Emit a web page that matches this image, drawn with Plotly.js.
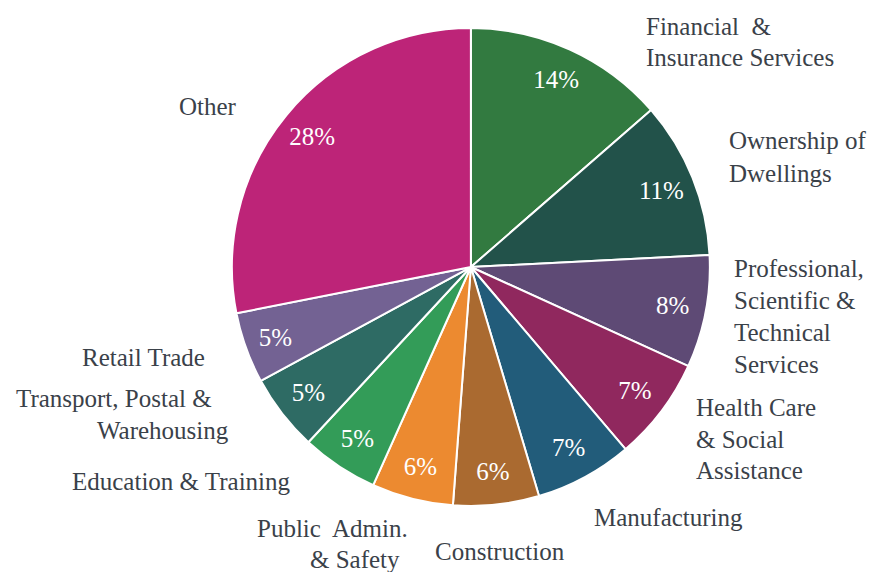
<!DOCTYPE html>
<html>
<head>
<meta charset="utf-8">
<script src="https://cdn.plot.ly/plotly-3.0.1.min.js"></script>
<style>
  html, body { margin: 0; padding: 0; background: #fff; }
  #chart { width: 872px; height: 572px; }
</style>
</head>
<body>
<div id="chart"></div>
<script>
// Sectores (en sentido horario desde las 12)
const industries = [
  "Financial & Insurance Services",
  "Ownership of Dwellings",
  "Professional, Scientific & Technical Services",
  "Health Care & Social Assistance",
  "Manufacturing",
  "Construction",
  "Public Admin. & Safety",
  "Education & Training",
  "Transport, Postal & Warehousing",
  "Retail Trade",
  "Other"
];

// Participación (%)
const shares = [13.6, 10.6, 7.6, 7.0, 6.6, 5.8, 5.5, 5.2, 5.2, 4.8, 28.1];

const sliceColors = [
  "#327a40", "#22524a", "#5e4a75", "#90285e", "#225c7a", "#aa6a30",
  "#ec8a30", "#339c58", "#2e6b64", "#736293", "#bd2478"
];

// Etiquetas exteriores (líneas con su posición en píxeles)
const labelLines = [
  { text: "Financial  &", x: 644, y: 27, anchor: "left" },
  { text: "Insurance Services", x: 644, y: 58, anchor: "left" },
  { text: "Ownership of", x: 727, y: 141, anchor: "left" },
  { text: "Dwellings", x: 727, y: 174, anchor: "left" },
  { text: "Professional,", x: 732, y: 269, anchor: "left" },
  { text: "Scientific &", x: 732, y: 300, anchor: "left" },
  { text: "Technical", x: 732, y: 332, anchor: "left" },
  { text: "Services", x: 732, y: 364, anchor: "left" },
  { text: "Health Care", x: 694, y: 407, anchor: "left" },
  { text: "& Social", x: 694, y: 439, anchor: "left" },
  { text: "Assistance", x: 694, y: 470, anchor: "left" },
  { text: "Manufacturing", x: 592, y: 517, anchor: "left" },
  { text: "Construction", x: 433, y: 551, anchor: "left" },
  { text: "Public  Admin.", x: 410, y: 528, anchor: "right" },
  { text: "& Safety", x: 402, y: 559, anchor: "right" },
  { text: "Education & Training", x: 293, y: 481, anchor: "right" },
  { text: "Transport, Postal &", x: 214, y: 398, anchor: "right" },
  { text: "Warehousing", x: 231, y: 430, anchor: "right" },
  { text: "Retail Trade", x: 207, y: 357, anchor: "right" },
  { text: "Other", x: 239, y: 106, anchor: "right" }
];

const W = 872, H = 572;
const serif = "Liberation Serif";
const pieDomain = { x: [0.2, 0.88], y: [0.1154, 0.951] };

const data = [
  // Pastel principal
  {
    type: "pie",
    labels: industries,
    values: shares,
    sort: false,
    direction: "clockwise",
    rotation: 0,
    marker: { colors: sliceColors, line: { color: "#ffffff", width: 2 } },
    textinfo: "none",
    hoverinfo: "label+percent",
    domain: pieDomain
  },
  // Anillo transparente sólo para colocar los porcentajes hacia el borde
  {
    type: "pie",
    labels: industries,
    values: shares,
    sort: false,
    direction: "clockwise",
    rotation: 0,
    hole: 0.72,
    marker: { colors: industries.map(() => "rgba(0,0,0,0)"), line: { width: 0 } },
    texttemplate: "%{percent:.0%}",
    textposition: "inside",
    insidetextorientation: "horizontal",
    textfont: { family: serif, size: 25, color: "#ffffff" },
    hoverinfo: "skip",
    domain: pieDomain
  }
];

const layout = {
  width: W,
  height: H,
  margin: { l: 0, r: 0, t: 0, b: 0 },
  showlegend: false,
  paper_bgcolor: "#ffffff",
  annotations: labelLines.map((l) => ({
    text: l.text,
    x: l.x / W,
    y: 1 - l.y / H,
    xref: "paper",
    yref: "paper",
    xanchor: l.anchor,
    yanchor: "middle",
    showarrow: false,
    font: { family: serif, size: 25, color: "#3a4149" }
  }))
};

Plotly.newPlot("chart", data, layout, { displayModeBar: false });
</script>
</body>
</html>
